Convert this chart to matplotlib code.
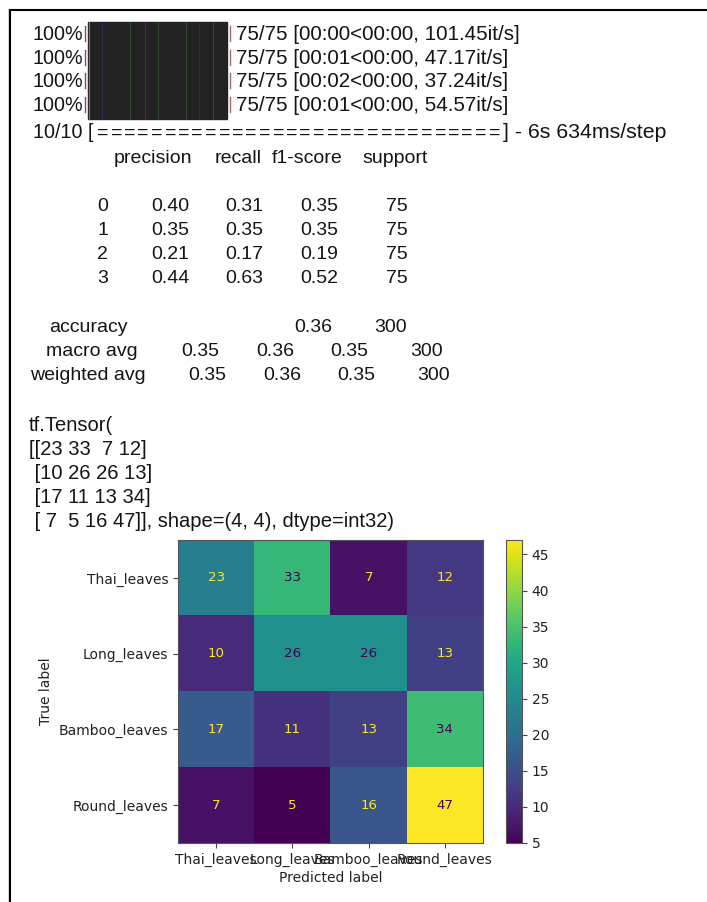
import numpy as np
import matplotlib
matplotlib.use("Agg")
import matplotlib.pyplot as plt
from matplotlib.patches import Rectangle

# ---- data -------------------------------------------------------------
class_names = ["Thai_leaves", "Long_leaves", "Bamboo_leaves", "Round_leaves"]
conf_matrix = np.array([[23, 33, 7, 12],
                        [10, 26, 26, 13],
                        [17, 11, 13, 34],
                        [7, 5, 16, 47]])

pbar_total = 75
pbar_elapsed = ["00:00", "00:01", "00:02", "00:01"]
pbar_rates = [101.45, 47.17, 37.24, 54.57]

keras_steps = 10
keras_time = "6s 634ms/step"

report_labels = ["0", "1", "2", "3"]
precision = [0.40, 0.35, 0.21, 0.44]
recall = [0.31, 0.35, 0.17, 0.63]
f1_score = [0.35, 0.35, 0.19, 0.52]
support = [75, 75, 75, 75]
accuracy = 0.36
total_support = 300
macro_avg = [0.35, 0.36, 0.35]
weighted_avg = [0.35, 0.36, 0.35]

# ---- figure -----------------------------------------------------------
W, H, DPI = 707, 902, 100
fig = plt.figure(figsize=(W / DPI, H / DPI), dpi=DPI)
fig.patch.set_facecolor("white")

# pixel-space canvas for the console output
cv = fig.add_axes([0, 0, 1, 1])
cv.set_xlim(0, W)
cv.set_ylim(H, 0)
cv.axis("off")

FAM = ["Liberation Sans", "DejaVu Sans"]
TXT = dict(family=FAM, fontsize=14, color="#141414")


def out(x, y, s, ha="left", size=14):
    cv.text(x, y, s, va="baseline", ha=ha, family=FAM, fontsize=size, color="#141414")


# cell frame
cv.plot([9, W], [9.5, 9.5], color="black", lw=1.5, solid_capstyle="butt")
cv.plot([10, 10], [9, H], color="black", lw=1.5, solid_capstyle="butt")
cv.plot([8, 8], [9, H], color="#cfcfcf", lw=0.7)

# tqdm progress bars
cv.add_patch(Rectangle((88, 22), 139, 97, color="#222222", zorder=1))
for x, c in [(102, "#2b2b52"), (130, "#2c4a2c"), (145, "#4e2a2a"), (158, "#2c4a2c"),
             (186, "#2c4a2c"), (199, "#2b2b52"), (213, "#2c4a2c")]:
    cv.plot([x, x], [22, 119], color=c, lw=0.8, zorder=2)
cv.plot([88.5, 88.5], [22, 119], color="#b06a2a", lw=0.8, zorder=2)
for i, (el, rate) in enumerate(zip(pbar_elapsed, pbar_rates)):
    yb = 40 + i * 23.7
    out(32, yb, "100%", size=14.2)
    cv.plot([85, 85], [yb - 14, yb + 1], color="#8a3a9a", lw=1.0)
    cv.plot([230, 230], [yb - 14, yb + 1], color="#a06a6a", lw=1.0)
    out(236, yb, f"{pbar_total}/{pbar_total} [{el}<00:00, {rate:.2f}it/s]", size=14.9)

# keras progress line
yb = 138
out(33, yb, f"{keras_steps}/{keras_steps} [", size=14.2)
for k in range(30):
    out(97 + k * 13.5, yb, "=")
out(503, yb, f"] - {keras_time}", size=15.3)

# classification report
for name, xr in zip(["precision", "recall", "f1-score", "support"], [192, 262, 343, 428]):
    out(xr, 163, name, ha="right")
for i, lab in enumerate(report_labels):
    yb = 211 + i * 24
    out(108, yb, lab, ha="right")
    for v, xr in zip([precision[i], recall[i], f1_score[i]], [189, 263, 338]):
        out(xr, yb, f"{v:.2f}", ha="right")
    out(408, yb, f"{support[i]}", ha="right")

out(128, 332, "accuracy", ha="right")
out(332, 332, f"{accuracy:.2f}", ha="right")
out(407, 332, f"{total_support}", ha="right")

out(138, 356, "macro avg", ha="right")
for v, xr in zip(macro_avg, [219, 294, 368]):
    out(xr, 356, f"{v:.2f}", ha="right")
out(443, 356, f"{total_support}", ha="right")

out(146, 380, "weighted avg", ha="right")
for v, xr in zip(weighted_avg, [226, 301, 375]):
    out(xr, 380, f"{v:.2f}", ha="right")
out(450, 380, f"{total_support}", ha="right")

# tensor printout
rows = ["[" + " ".join(f"{v:2d}" for v in r) + "]" for r in conf_matrix]
tensor_lines = ["tf.Tensor(", "[" + rows[0]] + [" " + r for r in rows[1:]]
tensor_lines[-1] += f"], shape=({conf_matrix.shape[0]}, {conf_matrix.shape[1]}), dtype=int32)"
for i, line in enumerate(tensor_lines):
    out(29, 431 + i * 24, line, size=14.5)

# ---- confusion matrix display -------------------------------------------
FS = 10
ax = fig.add_axes([178 / W, (H - 843) / H, 305 / W, 303 / H])
cax = fig.add_axes([506 / W, (H - 843) / H, 16 / W, 303 / H])

cmap = plt.get_cmap("viridis")
im = ax.imshow(conf_matrix, cmap=cmap, interpolation="nearest", aspect="auto")
vmin, vmax = conf_matrix.min(), conf_matrix.max()
thresh = (vmin + vmax) / 2.0
for i in range(conf_matrix.shape[0]):
    for j in range(conf_matrix.shape[1]):
        col = cmap(1.0) if conf_matrix[i, j] < thresh else cmap(0.0)
        ax.text(j, i, f"{conf_matrix[i, j]}", ha="center", va="center",
                color=col, fontsize=9.6, family="DejaVu Sans")

n = len(class_names)
ax.set_xticks(range(n))
ax.set_yticks(range(n))
ax.set_xticklabels(class_names, fontsize=FS, color="#222222")
ax.set_yticklabels(class_names, fontsize=FS, color="#222222")
ax.set_xlabel("Predicted label", fontsize=FS, color="#222222", labelpad=3)
ax.set_ylabel("True label", fontsize=FS, color="#222222", labelpad=4)
ax.tick_params(colors="#444444", labelcolor="#222222")
for s in ax.spines.values():
    s.set_color("#555555")

cb = fig.colorbar(im, cax=cax)
cb.ax.tick_params(labelsize=FS, colors="#444444", labelcolor="#222222")
cb.outline.set_edgecolor("#555555")

fig.savefig("out.png", dpi=DPI, facecolor="white")
